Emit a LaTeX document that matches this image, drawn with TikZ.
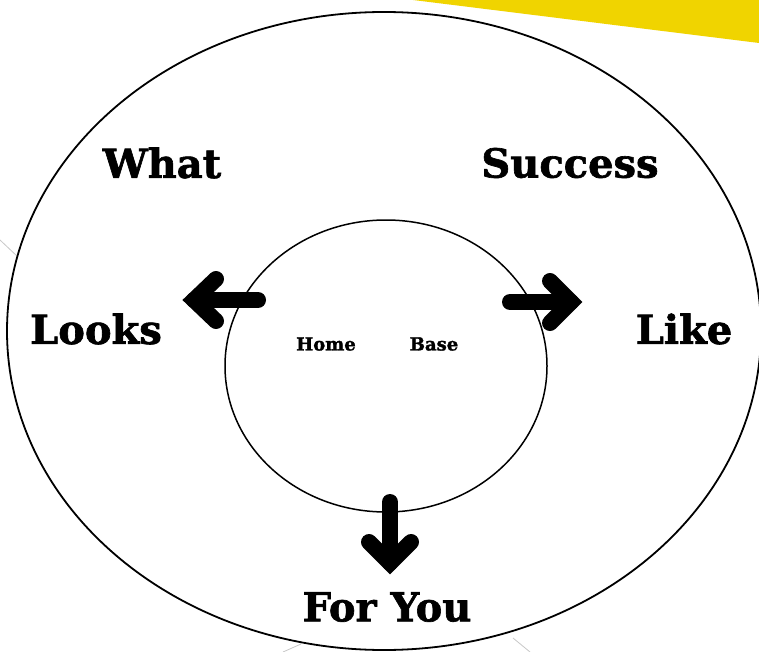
\documentclass[tikz,border=0pt]{standalone}
\usepackage{fontspec}
\setmainfont{DejaVu Serif}[BoldFeatures={FakeBold=1.6}]
\definecolor{sunyellow}{RGB}{240,212,0}
\definecolor{faintgray}{RGB}{200,200,200}
\tikzset{
  bigword/.style={font=\fontsize{40}{44}\selectfont\bfseries, inner sep=0pt},
  smallword/.style={font=\fontsize{18}{20}\selectfont\bfseries, inner sep=0pt},
  fatarrow/.style={line width=16pt, line cap=round, line join=round},
  fathead/.style={line width=16pt, line cap=round, line join=miter},
}
\begin{document}
\begin{tikzpicture}[x=1pt,y=-1pt]
\useasboundingbox (0,0) rectangle (759,652);
\clip (0,0) rectangle (759,652);
\fill[white] (0,0) rectangle (759,652);
% yellow band
\fill[sunyellow] (413,0) -- (759,0) -- (759,43) -- cycle;
% faint background lines
\draw[faintgray, line width=0.8pt] (0,240) -- (18,257);
\draw[faintgray, line width=0.8pt] (283,652) -- (301,644);
\draw[faintgray, line width=0.8pt] (513,638) -- (530,652);
% outer ellipse
\draw[line width=1.8pt] (384,331) ellipse [x radius=377, y radius=319];
% inner ellipse
\draw[line width=1.5pt] (386,366) ellipse [x radius=161, y radius=146];
% labels
\node[bigword] (what) at (162,163) {What};
\node[bigword] (success) at (570,163) {Success};
\node[bigword] (looks) at (96,329) {Looks};
\node[bigword] (like) at (684,329) {Like};
\node[bigword] (foryou) at (387,607) {For You};
\node[smallword] (home) at (326,344) {Home};
\node[smallword] (base) at (434,344) {Base};
% arrows
\coordinate (lA) at (258,300); \coordinate (lT) at (194,300);
\coordinate (lU) at (216,279); \coordinate (lD) at (216,321);
\draw[fatarrow] (lA) -- (lT);
\draw[fathead] (lU) -- (lT) -- (lD);
\coordinate (rA) at (510,302); \coordinate (rT) at (571,302);
\coordinate (rU) at (550,281); \coordinate (rD) at (550,323);
\draw[fatarrow] (rA) -- (rT);
\draw[fathead] (rU) -- (rT) -- (rD);
\coordinate (dA) at (390,502); \coordinate (dT) at (390,563);
\coordinate (dL) at (369,542); \coordinate (dR) at (411,542);
\draw[fatarrow] (dA) -- (dT);
\draw[fathead] (dL) -- (dT) -- (dR);
\end{tikzpicture}
\end{document}
